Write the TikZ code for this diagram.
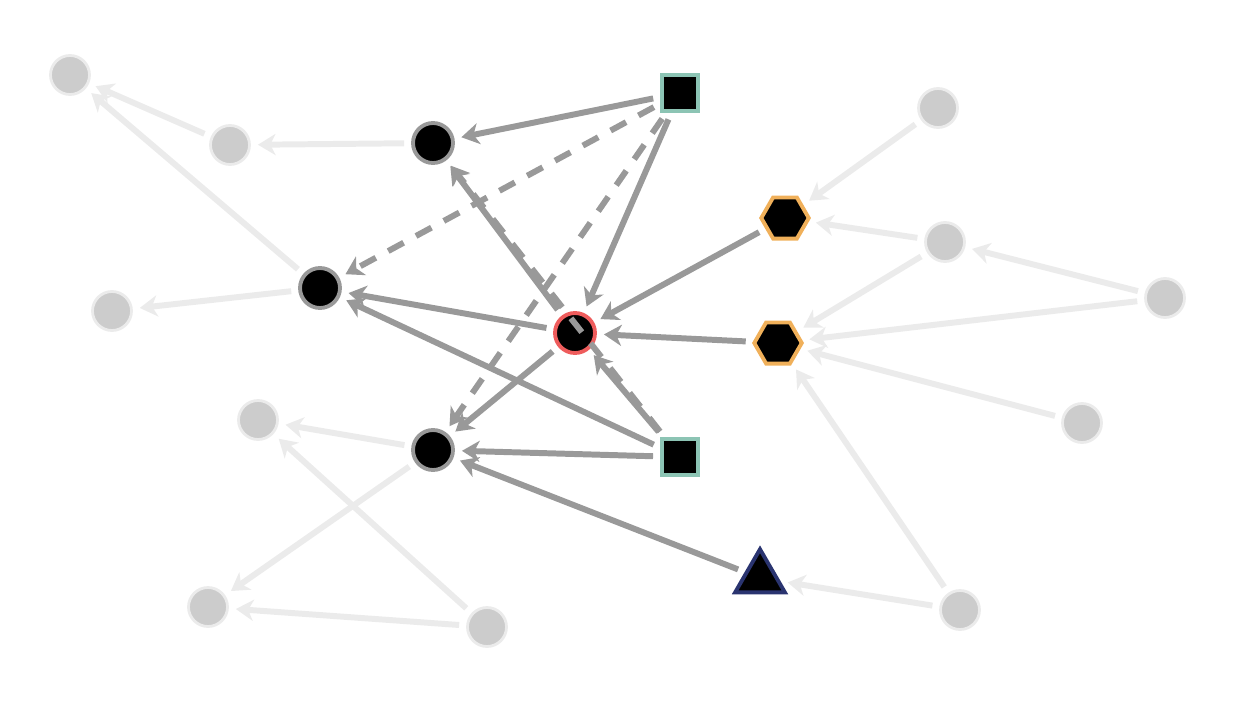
\documentclass[tikz,border=0pt]{standalone}
\usetikzlibrary{shapes.geometric,arrows.meta}
\definecolor{faint}{HTML}{ebebeb}
\definecolor{ghost}{HTML}{cccccc}
\definecolor{link}{HTML}{999999}
\definecolor{teal}{HTML}{8cc4b4}
\definecolor{amber}{HTML}{f0b05a}
\definecolor{navy}{HTML}{2a3470}
\definecolor{coral}{HTML}{ee5c5c}

\tikzset{
  ghostnode/.style={circle, fill=ghost, draw=faint, line width=1.6pt, minimum size=0.78cm, inner sep=0pt},
  hub/.style={circle, fill=black, draw=link, line width=2.2pt, minimum size=0.8cm, inner sep=0pt},
  sqnode/.style={rectangle, fill=black, draw=teal, line width=2.2pt, minimum size=0.72cm, inner sep=0pt},
  hexnode/.style={regular polygon, regular polygon sides=6, fill=black, draw=amber, line width=2.2pt, minimum size=0.95cm, inner sep=0pt},
  trinode/.style={regular polygon, regular polygon sides=3, fill=black, draw=navy, line width=2.2pt, minimum size=1.15cm, inner sep=0pt},
  faintlink/.style={draw=faint, line width=3.4pt, -{Stealth[length=10pt,width=12pt,inset=3pt]}, shorten <=4pt, shorten >=4pt},
  mainlink/.style={draw=link, line width=3.4pt, -{Stealth[length=10pt,width=12pt,inset=3pt]}, shorten <=4pt, shorten >=4pt},
  dashlink/.style={mainlink, dash pattern=on 10pt off 8pt}
}

\begin{document}
\begin{tikzpicture}[x=0.02cm, y=-0.02cm]
  \useasboundingbox (0,0) rectangle (1237,700);

  % background nodes
  \node[ghostnode] (g1) at (70,75) {};
  \node[ghostnode] (g2) at (230,145) {};
  \node[ghostnode] (g3) at (112,311) {};
  \node[ghostnode] (g4) at (258,420) {};
  \node[ghostnode] (g5) at (208,607) {};
  \node[ghostnode] (g6) at (487,627) {};
  \node[ghostnode] (g7) at (938,108) {};
  \node[ghostnode] (g8) at (945,242) {};
  \node[ghostnode] (g9) at (1165,298) {};
  \node[ghostnode] (g10) at (1082,423) {};
  \node[ghostnode] (g11) at (960,610) {};

  % main nodes
  \node[hub] (top) at (433,143) {};
  \node[hub] (left) at (320,288) {};
  \node[hub] (bot) at (433,450) {};
  \node[hub, draw=coral] (mid) at (575,333) {};
  \node[sqnode] (sq1) at (680,93) {};
  \node[sqnode] (sq2) at (680,457) {};
  \node[hexnode] (hex1) at (785,218) {};
  \node[hexnode] (hex2) at (778,343) {};
  \node[trinode] (tri) at (760,578) {};

  % faint edges
  \draw[faintlink] (g2) -- (g1);
  \draw[faintlink] (top) -- (g2);
  \draw[faintlink] (left) -- (g1);
  \draw[faintlink] (left) -- (g3);
  \draw[faintlink] (g7) -- (hex1);
  \draw[faintlink] (g8) -- (hex1);
  \draw[faintlink] (g9) -- (g8);
  \draw[faintlink] (g8) -- (hex2);
  \draw[faintlink] (g9) -- (hex2);
  \draw[faintlink] (g10) -- (hex2);
  \draw[faintlink] (g11) -- (hex2);
  \draw[faintlink] (g11) -- (tri);
  \draw[faintlink] (bot) -- (g4);
  \draw[faintlink] (bot) -- (g5);
  \draw[faintlink] (g6) -- (g5);
  \draw[faintlink] (g6) -- (g4);

  % main edges
  \draw[mainlink] (sq1) -- (top);
  \draw[mainlink] (sq1) -- (mid);
  \draw[mainlink] (mid) -- (top);
  \draw[mainlink] (mid) -- (left);
  \draw[mainlink] (mid) -- (bot);
  \draw[mainlink] (hex1) -- (mid);
  \draw[mainlink] (hex2) -- (mid);
  \draw[mainlink] (sq2) -- (mid);
  \draw[mainlink] (sq2) -- (left);
  \draw[mainlink] (sq2) -- (bot);
  \draw[mainlink] (tri) -- (bot);
  \draw[dashlink] (sq1) -- (left);
  \draw[dashlink] (sq1) -- (bot);
  \draw[dashlink] (sq2) -- (top);

\end{tikzpicture}
\end{document}
